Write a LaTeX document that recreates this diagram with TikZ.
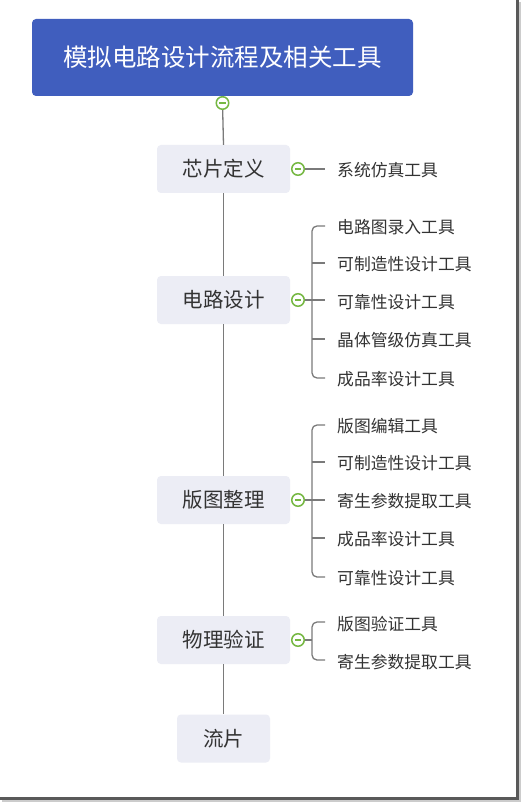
\documentclass[tikz,border=0pt]{standalone}
\usepackage{fontspec}
\setmainfont{Noto Sans CJK SC}
\usetikzlibrary{calc}
\definecolor{titleblue}{HTML}{405EBE}
\definecolor{stepfill}{HTML}{ECEDF5}
\definecolor{txt}{HTML}{333333}
\definecolor{linegray}{HTML}{7A7A7A}
\definecolor{togglegreen}{HTML}{76B843}
\tikzset{
  x=1pt,y=-1pt,
  titlebox/.style={fill=titleblue,rounded corners=4pt,minimum width=381pt,minimum height=77pt,inner sep=0pt,text=white,font=\fontsize{24.5}{28}\selectfont},
  stepbox/.style={fill=stepfill,rounded corners=4pt,minimum width=133pt,minimum height=48pt,inner sep=0pt,text=txt,font=\fontsize{20.5}{24}\selectfont},
  leaf/.style={anchor=west,inner sep=0pt,text=txt,font=\fontsize{16.8}{20}\selectfont},
  conn/.style={draw=linegray,line width=1.3pt},
  toggle/.style={circle,draw=togglegreen,fill=white,line width=1.5pt,minimum size=12.5pt,inner sep=0pt,
    path picture={\draw[togglegreen,line width=1.5pt] ($(path picture bounding box.west)+(3pt,0)$) -- ($(path picture bounding box.east)+(-3pt,0)$);}},
}
\begin{document}
\begin{tikzpicture}
\useasboundingbox (0,0) rectangle (522,802);
\fill[white] (0,0) rectangle (522,802);
% frame shadow
\draw[gray!70!black,line width=2.5pt] (517.5,0) -- (517.5,798.5) -- (0,798.5);
\draw[gray!40,line width=1.5pt] (520,2) -- (520,801) -- (2,801);

\node[titlebox] (title) at (222.5,57.5) {模拟电路设计流程及相关工具};
\node[stepbox] (s1) at (223.5,169) {芯片定义};
\node[stepbox] (s2) at (223.5,300) {电路设计};
\node[stepbox] (s3) at (223.5,500) {版图整理};
\node[stepbox] (s4) at (223.5,640) {物理验证};
\node[stepbox,minimum width=93pt] (s5) at (223.5,738.5) {流片};

% trunk
\draw[conn] (222.5,103) -- (s1.north);
\draw[conn] (s1.south) -- (s2.north);
\draw[conn] (s2.south) -- (s3.north);
\draw[conn] (s3.south) -- (s4.north);
\draw[conn] (s4.south) -- (s5.north);
\node[toggle] (t0) at (222.5,103) {};

% leaves
\node[leaf] (a1) at (337,170) {系统仿真工具};

\node[leaf] (b1) at (337,227) {电路图录入工具};
\node[leaf] (b2) at (337,264) {可制造性设计工具};
\node[leaf] (b3) at (337,302) {可靠性设计工具};
\node[leaf] (b4) at (337,340) {晶体管级仿真工具};
\node[leaf] (b5) at (337,379) {成品率设计工具};

\node[leaf] (c1) at (337,426) {版图编辑工具};
\node[leaf] (c2) at (337,463) {可制造性设计工具};
\node[leaf] (c3) at (337,501) {寄生参数提取工具};
\node[leaf] (c4) at (337,539) {成品率设计工具};
\node[leaf] (c5) at (337,578) {可靠性设计工具};

\node[leaf] (d1) at (337,624) {版图验证工具};
\node[leaf] (d2) at (337,662) {寄生参数提取工具};

% branch connectors
\coordinate (k1) at (325,169);
\draw[conn] (298,169) -- (k1);

\foreach \n/\y in {b1/226,b2/263,b3/301,b4/339,b5/378}{
  \coordinate (e\n) at (325,\y);
}
\draw[conn] (298,300) -- (325,300);
\draw[conn,rounded corners=5pt] (eb1) -- (312,226) -- (312,378) -- (eb5);
\draw[conn] (312,263) -- (eb2);
\draw[conn] (312,339) -- (eb4);

\foreach \n/\y in {c1/425,c2/462,c3/500,c4/538,c5/577}{
  \coordinate (e\n) at (325,\y);
}
\draw[conn] (298,500) -- (ec3);
\draw[conn,rounded corners=5pt] (ec1) -- (312,425) -- (312,577) -- (ec5);
\draw[conn] (312,462) -- (ec2);
\draw[conn] (312,538) -- (ec4);

\coordinate (ed1) at (325,622);
\coordinate (ed2) at (325,660);
\draw[conn] (298,640) -- (312,640);
\draw[conn,rounded corners=5pt] (ed1) -- (312,622) -- (312,660) -- (ed2);

\node[toggle] (t1) at (298,169) {};
\node[toggle] (t2) at (298,300) {};
\node[toggle] (t3) at (298,500) {};
\node[toggle] (t4) at (298,640) {};
\end{tikzpicture}
\end{document}
